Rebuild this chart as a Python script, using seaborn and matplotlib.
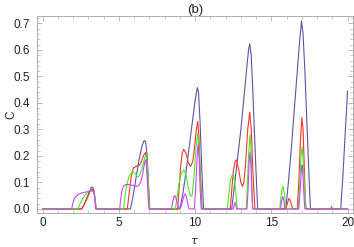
import numpy as np
import pandas as pd
import matplotlib
matplotlib.use("Agg")
import matplotlib.pyplot as plt
import seaborn as sns
from matplotlib.ticker import MultipleLocator

# values (tau, C) per curve
blue_tau = [0, 2.55, 2.7, 2.9, 3.05, 3.2, 3.3, 3.4, 3.5,
            5.75, 5.9, 6.1, 6.3, 6.5, 6.65, 6.75, 6.85, 6.95, 7.02,
            9.0, 9.2, 9.4, 9.6, 9.8, 10.0, 10.14, 10.22, 10.32, 10.45, 10.55,
            12.4, 12.6, 12.8, 13.0, 13.2, 13.35, 13.5, 13.58, 13.68, 13.8, 13.95, 14.1,
            15.95, 16.1, 16.3, 16.5, 16.7, 16.85, 16.98, 17.08, 17.2, 17.35, 17.5, 17.57,
            19.55, 19.7, 19.85, 20.0]
blue_c = [0, 0, 0.015, 0.042, 0.065, 0.083, 0.08, 0.05, 0,
          0, 0.04, 0.11, 0.18, 0.235, 0.258, 0.255, 0.2, 0.08, 0,
          0, 0.06, 0.14, 0.23, 0.32, 0.41, 0.458, 0.44, 0.33, 0.13, 0,
          0, 0.1, 0.2, 0.3, 0.42, 0.51, 0.6, 0.623, 0.58, 0.42, 0.2, 0,
          0, 0.09, 0.22, 0.37, 0.52, 0.63, 0.71, 0.66, 0.52, 0.3, 0.08, 0,
          0, 0.13, 0.29, 0.445]

red_tau = [0, 2.55, 2.75, 2.95, 3.1, 3.25, 3.35, 3.45, 3.5,
           5.55, 5.65, 5.8, 5.95, 6.1, 6.3, 6.45, 6.6, 6.75, 6.85, 6.95, 7.0,
           8.85, 8.95, 9.05, 9.15, 9.25, 9.4, 9.55, 9.7, 9.85, 9.95, 10.08, 10.17, 10.25, 10.35, 10.45,
           12.3, 12.4, 12.5, 12.62, 12.72, 12.85, 13.0, 13.1, 13.2, 13.32, 13.45, 13.58, 13.68, 13.8, 13.92,
           15.95, 16.05, 16.15, 16.25, 16.4,
           16.7, 16.8, 16.9, 17.0, 17.08, 17.15, 17.22, 17.27, 20.0]
red_c = [0, 0, 0.02, 0.045, 0.065, 0.075, 0.07, 0.03, 0,
         0, 0.05, 0.12, 0.155, 0.16, 0.163, 0.175, 0.2, 0.213, 0.17, 0.05, 0,
         0, 0.08, 0.16, 0.21, 0.225, 0.21, 0.175, 0.16, 0.18, 0.23, 0.3, 0.33, 0.27, 0.12, 0,
         0, 0.07, 0.14, 0.18, 0.185, 0.15, 0.1, 0.085, 0.1, 0.18, 0.3, 0.365, 0.3, 0.13, 0,
         0, 0.02, 0.04, 0.03, 0,
         0, 0.1, 0.25, 0.345, 0.3, 0.18, 0.05, 0, 0]

green_tau = [0, 2.3, 2.45, 2.65, 2.85, 3.05, 3.2, 3.35, 3.45, 3.5,
             5.3, 5.4, 5.55, 5.7, 5.9, 6.05, 6.2, 6.35, 6.5, 6.7, 6.8, 6.88, 6.97, 7.0,
             8.7, 8.8, 8.95, 9.1, 9.25, 9.4, 9.55, 9.7, 9.8, 9.92, 10.05, 10.17, 10.25, 10.33, 10.42,
             12.1, 12.2, 12.3, 12.42, 12.5, 12.6, 12.7, 12.76,
             13.35, 13.42, 13.5, 13.6, 13.67, 13.73, 13.78,
             15.55, 15.62, 15.7, 15.77, 15.85, 15.92, 15.97,
             16.75, 16.85, 16.95, 17.02, 17.1, 17.2, 17.27, 20.0]
green_c = [0, 0, 0.02, 0.042, 0.058, 0.067, 0.07, 0.065, 0.03, 0,
           0, 0.05, 0.1, 0.128, 0.14, 0.135, 0.122, 0.125, 0.15, 0.195, 0.2, 0.15, 0.04, 0,
           0, 0.04, 0.1, 0.135, 0.148, 0.13, 0.08, 0.047, 0.05, 0.12, 0.23, 0.285, 0.24, 0.12, 0,
           0, 0.05, 0.1, 0.128, 0.13, 0.1, 0.04, 0,
           0, 0.08, 0.2, 0.28, 0.22, 0.08, 0,
           0, 0.04, 0.075, 0.085, 0.06, 0.02, 0,
           0, 0.08, 0.2, 0.235, 0.17, 0.05, 0, 0]

magenta_tau = [0, 1.9, 1.97, 2.05, 2.15, 2.3, 2.5, 2.7, 2.9, 3.1, 3.25, 3.35, 3.43, 3.47,
               5.05, 5.12, 5.2, 5.3, 5.45, 5.65, 5.85, 6.0, 6.15, 6.3, 6.42, 6.55, 6.7, 6.77, 6.85, 6.93, 6.97,
               8.45, 8.52, 8.6, 8.67, 8.75, 8.85, 8.95, 9.05, 9.15, 9.27, 9.35, 9.45, 9.55, 9.6,
               9.95, 10.05, 10.15, 10.2, 10.27, 10.33, 10.4,
               12.5, 12.56, 12.62, 12.67, 12.72,
               13.4, 13.47, 13.55, 13.6, 13.66, 13.72, 13.77,
               15.6, 15.67, 15.75, 15.82, 15.88,
               16.8, 16.9, 16.97, 17.02, 17.08, 17.15, 17.2,
               18.9, 18.95, 19.0, 20.0]
magenta_c = [0, 0, 0.02, 0.035, 0.046, 0.054, 0.059, 0.062, 0.065, 0.067, 0.068, 0.065, 0.03, 0,
             0, 0.04, 0.07, 0.086, 0.092, 0.092, 0.09, 0.088, 0.085, 0.088, 0.1, 0.13, 0.18, 0.185, 0.12, 0.03, 0,
             0, 0.025, 0.045, 0.05, 0.04, 0.015, 0.005, 0.005, 0.025, 0.05, 0.057, 0.04, 0.01, 0,
             0, 0.1, 0.22, 0.245, 0.18, 0.07, 0,
             0, 0.015, 0.025, 0.015, 0,
             0, 0.07, 0.18, 0.215, 0.17, 0.06, 0,
             0, 0.03, 0.047, 0.03, 0,
             0, 0.08, 0.15, 0.165, 0.12, 0.04, 0,
             0, 0.01, 0, 0]

series_names = ["blue", "red", "green", "magenta"]
colors = {"blue": "#5656a8", "red": "#ff3322", "green": "#44ee22", "magenta": "#cc44ff"}

frames = []
for name, t, c in [("blue", blue_tau, blue_c), ("red", red_tau, red_c),
                   ("green", green_tau, green_c), ("magenta", magenta_tau, magenta_c)]:
    frames.append(pd.DataFrame({"tau": t, "C": c, "curve": name}))
df = pd.concat(frames, ignore_index=True)

sns.set_style("ticks")
plt.rcParams['font.family'] = ['Liberation Sans', 'DejaVu Sans']

fig = plt.figure(figsize=(3.54, 2.47), dpi=100)
ax = fig.add_axes([0.104, 0.138, 0.892, 0.797])

sns.lineplot(data=df, x="tau", y="C", hue="curve", hue_order=series_names,
             palette=colors, estimator=None, sort=False, linewidth=0.8,
             legend=False, ax=ax)

ax.set_xlim(-0.39, 20.33)
ax.set_ylim(-0.015, 0.728)
ax.xaxis.set_major_locator(MultipleLocator(5))
ax.xaxis.set_minor_locator(MultipleLocator(1))
ax.yaxis.set_major_locator(MultipleLocator(0.1))
ax.yaxis.set_minor_locator(MultipleLocator(0.02))
ax.yaxis.set_major_formatter(matplotlib.ticker.FormatStrFormatter('%.1f'))

for s in ax.spines.values():
    s.set_color("#a0a0a0")
    s.set_linewidth(0.6)
ax.tick_params(which="both", direction="in", top=True, right=True,
               color="#a0a0a0", labelsize=8.5, labelcolor="#222222")
ax.tick_params(axis="y", pad=5)
ax.tick_params(axis="x", pad=3)
ax.tick_params(which="major", length=3.5, width=0.5)
ax.tick_params(which="minor", length=2, width=0.4)

ax.set_xlabel(r"$\tau$", fontsize=8, labelpad=5)
ax.set_ylabel("C", fontsize=8.5)
ax.yaxis.set_label_coords(-0.06, 0.5)
ax.set_title("(b)", fontsize=9.5, pad=1)

fig.savefig("out.png", dpi=100)
